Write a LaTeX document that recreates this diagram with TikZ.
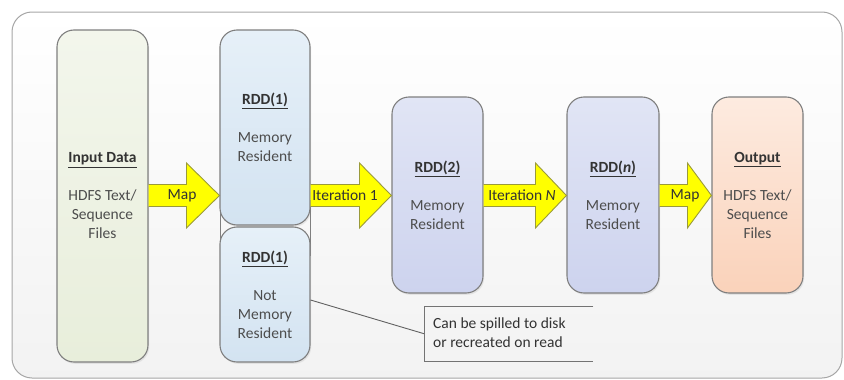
\documentclass[tikz,border=0pt]{standalone}
\usepackage{fontspec}
\setmainfont{Carlito}
\usetikzlibrary{calc,shadows}

\definecolor{frameline}{HTML}{A6A6A6}
\definecolor{boxline}{HTML}{7F7F7F}
\definecolor{inTop}{HTML}{F3F6EC}
\definecolor{inBot}{HTML}{E8EEDB}
\definecolor{rddTop}{HTML}{E6F0F8}
\definecolor{rddBot}{HTML}{D3E3F1}
\definecolor{lavTop}{HTML}{E1E5F5}
\definecolor{lavBot}{HTML}{CDD3EE}
\definecolor{outTop}{HTML}{FDEBE0}
\definecolor{outBot}{HTML}{FAD2BA}
\definecolor{arrowFill}{HTML}{FFFF00}
\definecolor{arrowEdge}{HTML}{9A9A3A}
\definecolor{titleText}{HTML}{333333}
\definecolor{bodyText}{HTML}{4D4D4D}

% underlined bold heading inside a stage box
\newcommand\stagetitle[1]{{\bfseries\color{titleText}\underline{#1}}}

% yellow block arrow from the east side of #1 to the west side of #2, head length #3
\newcommand\blockarrow[3]{%
  \fill[arrowFill] let \p1=(#1.east), \p2=(#2.west) in
    (\x1,-184.5pt) -- (\x2-#3pt,-184.5pt) -- (\x2-#3pt,-163pt) -- (\x2,-195.5pt)
    -- (\x2-#3pt,-228pt) -- (\x2-#3pt,-206.5pt) -- (\x1,-206.5pt) -- cycle;
  \draw[arrowEdge, line width=0.9pt, line join=miter] let \p1=(#1.east), \p2=(#2.west) in
    (\x1,-184.5pt) -- (\x2-#3pt,-184.5pt) -- (\x2-#3pt,-163pt) -- (\x2,-195.5pt)
    -- (\x2-#3pt,-228pt) -- (\x2-#3pt,-206.5pt) -- (\x1,-206.5pt);
}

\begin{document}
\begin{tikzpicture}[x=1pt,y=-1pt,
  every node/.style={font=\fontsize{15.5}{19}\selectfont, text=bodyText},
  stage/.style={draw=boxline, line width=1.1pt, rounded corners=17pt,
    inner sep=0pt, align=center,
    drop shadow={opacity=0.15, shadow xshift=1.2pt, shadow yshift=-1.8pt}},
  inputbox/.style={stage, top color=inTop, bottom color=inBot},
  rddbox/.style={stage, top color=rddTop, bottom color=rddBot},
  lavbox/.style={stage, top color=lavTop, bottom color=lavBot},
  outbox/.style={stage, top color=outTop, bottom color=outBot},
  arrowlabel/.style={text=titleText, inner sep=0pt},
  connector/.style={draw=black!62, line width=0.9pt},
  notebracket/.style={draw=black!55, line width=1pt}
]
\useasboundingbox (0,0) rectangle (844,380);

% outer panel
\draw[frameline, line width=1pt, rounded corners=20pt, top color=white, bottom color=black!5]
  (12,12) rectangle (842,378);

% thin frame joining the two RDD(1) boxes
\draw[boxline, line width=0.9pt] (220,200) rectangle (310,255);

% stages
\node[inputbox, minimum width=91pt, minimum height=332pt] (input) at (102.5,196)
  {\stagetitle{Input Data}\\[19pt]HDFS Text/\\Sequence\\Files};
\node[rddbox, minimum width=90pt, minimum height=195pt] (rddA) at (265,127.5)
  {\stagetitle{RDD(1)}\\[19pt]Memory\\Resident};
\node[rddbox, minimum width=90pt, minimum height=135pt] (rddB) at (265,294.5)
  {\stagetitle{RDD(1)}\\[19pt]Not\\Memory\\Resident};
\node[lavbox, minimum width=91pt, minimum height=196pt] (rddTwo) at (437.5,195)
  {\stagetitle{RDD(2)}\\[19pt]Memory\\Resident};
\node[lavbox, minimum width=92pt, minimum height=196pt] (rddN) at (613,195)
  {\stagetitle{RDD(\textit{n})}\\[19pt]Memory\\Resident};
\node[outbox, minimum width=91pt, minimum height=196pt] (output) at (757.5,195)
  {\stagetitle{Output}\\[19pt]HDFS Text/\\Sequence\\Files};

% block arrows between stages
\blockarrow{input}{rddA}{33}
\blockarrow{rddA}{rddTwo}{32}
\blockarrow{rddTwo}{rddN}{31}
\blockarrow{rddN}{output}{24}

\node[arrowlabel] (mapIn) at (182,195.5) {Map};
\node[arrowlabel] (iterOne) at (345,195.5) {Iteration 1};
\node[arrowlabel] (iterN) at (522,195.5) {Iteration \textit{N}};
\node[arrowlabel] (mapOut) at (685,195.5) {Map};

% callout for the spilled RDD
\node[inner sep=0pt, minimum width=169pt, minimum height=55pt, anchor=north west]
  (note) at (424,306) {};
\node[anchor=west, align=left, inner sep=0pt, text=titleText] (noteText)
  at ([xshift=9pt,yshift=1.5pt]note.west) {Can be spilled to disk\\or recreated on read};
\draw[notebracket] (note.north east) -- (note.north west) -- (note.south west) -- (note.south east);
\draw[connector] ([yshift=-5.5pt]rddB.east) -- (note.west);
\end{tikzpicture}
\end{document}
